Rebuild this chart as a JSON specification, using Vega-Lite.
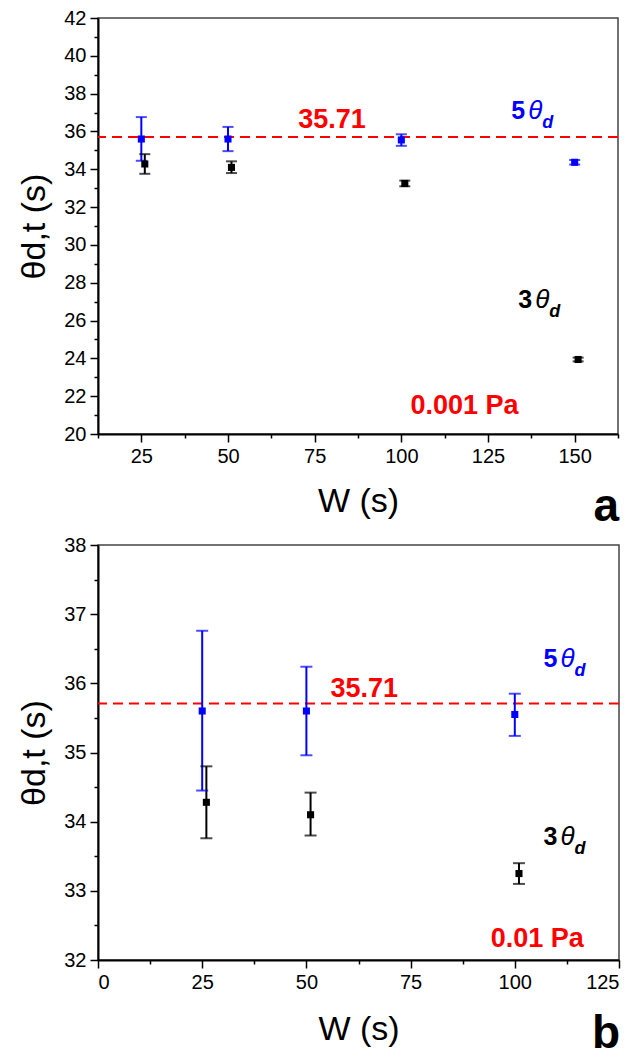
{
  "$schema": "https://vega.github.io/schema/vega-lite/v6.json",
  "padding": {"left": 17, "top": 7, "right": 15, "bottom": 0},
  "background": "white",
  "config": {
    "font": "Liberation Sans",
    "view": {"stroke": "#444", "strokeWidth": 1.5},
    "axis": {
      "grid": false,
      "domainColor": "#000",
      "domainWidth": 2,
      "tickColor": "#000",
      "tickWidth": 1.5,
      "labelFontSize": 20,
      "labelColor": "#000",
      "labelFont": "Liberation Sans",
      "labelOverlap": false,
      "titleFont": "Liberation Sans",
      "titleFontSize": 34,
      "titleFontWeight": "normal",
      "titleColor": "#000",
      "labelPadding": 4
    }
  },
  "datasets": {
    "a": [
      {"s": "5", "W": 25, "v": 35.6, "lo": 34.45, "hi": 36.76},
      {"s": "5", "W": 50, "v": 35.6, "lo": 34.96, "hi": 36.24},
      {"s": "5", "W": 100, "v": 35.55, "lo": 35.24, "hi": 35.85},
      {"s": "5", "W": 150, "v": 34.37, "lo": 34.25, "hi": 34.49},
      {"s": "3", "W": 26, "v": 34.28, "lo": 33.76, "hi": 34.8},
      {"s": "3", "W": 51, "v": 34.1, "lo": 33.8, "hi": 34.42},
      {"s": "3", "W": 101, "v": 33.25, "lo": 33.1, "hi": 33.4},
      {"s": "3", "W": 151, "v": 23.94, "lo": 23.84, "hi": 24.04}
    ],
    "b": [
      {"s": "5", "W": 25, "v": 35.6, "lo": 34.45, "hi": 36.76},
      {"s": "5", "W": 50, "v": 35.6, "lo": 34.96, "hi": 36.24},
      {"s": "5", "W": 100, "v": 35.55, "lo": 35.24, "hi": 35.85},
      {"s": "3", "W": 26, "v": 34.28, "lo": 33.76, "hi": 34.8},
      {"s": "3", "W": 51, "v": 34.1, "lo": 33.8, "hi": 34.42},
      {"s": "3", "W": 101, "v": 33.25, "lo": 33.1, "hi": 33.4}
    ],
    "ref": [{"v": 35.71}],
    "labA": [
      {"s": "5", "W": 131.7, "v": 36.66},
      {"s": "3", "W": 133.7, "v": 26.66}
    ],
    "labB": [
      {"s": "5", "W": 106.9, "v": 36.24},
      {"s": "3", "W": 106.9, "v": 33.66}
    ],
    "redA": [
      {"W": 80, "v": 36.18, "t": "35.71"},
      {"W": 118.2, "v": 21.05, "t": "0.001 Pa"}
    ],
    "redB": [
      {"W": 63.9, "v": 35.8, "t": "35.71"},
      {"W": 105.4, "v": 32.19, "t": "0.01 Pa"}
    ]
  },
  "spacing": 3,
  "vconcat": [
    {
      "width": 520,
      "height": 416,
      "title": {"text": "a", "orient": "bottom", "anchor": "end", "fontSize": 46, "fontWeight": "bold", "color": "#000", "offset": -33},
      "layer": [
        {
          "data": {"name": "ref"},
          "mark": {"type": "rule", "color": "#ff0000", "strokeDash": [10, 6], "strokeWidth": 2},
          "encoding": {"y": {"field": "v", "type": "quantitative"}}
        },
        {
          "data": {"name": "a"},
          "mark": {"type": "rule", "strokeWidth": 2},
          "encoding": {
            "x": {"field": "W", "type": "quantitative", "scale": {"domain": [12.5, 162.5], "nice": false, "zero": false},
              "axis": {"title": "W (s)", "values": [12.5, 25, 37.5, 50, 62.5, 75, 87.5, 100, 112.5, 125, 137.5, 150, 162.5],
                "tickCount": 200,
                "labelExpr": "datum.value % 25 === 0 ? format(datum.value, 'd') : ''",
                "labelOverlap": false,
                "tickSize": {"condition": {"test": "datum.value % 25 === 0", "value": 8}, "value": 4},
                "labelPadding": 4, "titlePadding": 18}},
            "y": {"field": "lo", "type": "quantitative", "scale": {"domain": [20, 42], "nice": false, "zero": false},
              "axis": {"title": "θd,t (s)", "values": [20, 21, 22, 23, 24, 25, 26, 27, 28, 29, 30, 31, 32, 33, 34, 35, 36, 37, 38, 39, 40, 41, 42],
                "tickCount": 200,
                "labelExpr": "datum.value % 2 === 0 ? format(datum.value, 'd') : ''",
                "labelOverlap": false,
                "tickSize": {"condition": {"test": "datum.value % 2 === 0", "value": 8}, "value": 4},
                "labelPadding": 4, "titlePadding": 12}},
            "y2": {"field": "hi"},
            "color": {"field": "s", "type": "nominal", "scale": {"domain": ["5", "3"], "range": ["#0000ff", "#000000"]}, "legend": null}
          }
        },
        {
          "data": {"name": "a"},
          "mark": {"type": "tick", "orient": "horizontal", "size": 11, "thickness": 2},
          "encoding": {
            "x": {"field": "W", "type": "quantitative"},
            "y": {"field": "hi", "type": "quantitative"},
            "color": {"field": "s", "type": "nominal", "legend": null}
          }
        },
        {
          "data": {"name": "a"},
          "mark": {"type": "tick", "orient": "horizontal", "size": 11, "thickness": 2},
          "encoding": {
            "x": {"field": "W", "type": "quantitative"},
            "y": {"field": "lo", "type": "quantitative"},
            "color": {"field": "s", "type": "nominal", "legend": null}
          }
        },
        {
          "data": {"name": "a"},
          "mark": {"type": "square", "size": 50, "filled": true, "opacity": 1},
          "encoding": {
            "x": {"field": "W", "type": "quantitative"},
            "y": {"field": "v", "type": "quantitative"},
            "color": {"field": "s", "type": "nominal", "legend": null}
          }
        },
        {
          "data": {"name": "redA"},
          "mark": {"type": "text", "color": "#ff0000", "fontSize": 27, "fontWeight": "bold", "align": "center", "baseline": "alphabetic"},
          "encoding": {
            "x": {"field": "W", "type": "quantitative"},
            "y": {"field": "v", "type": "quantitative"},
            "text": {"field": "t"}
          }
        },
        {
          "data": {"name": "labA"},
          "mark": {"type": "text", "fontSize": 25, "fontWeight": "bold", "align": "left", "baseline": "alphabetic"},
          "encoding": {
            "x": {"field": "W", "type": "quantitative"},
            "y": {"field": "v", "type": "quantitative"},
            "text": {"field": "s"},
            "color": {"field": "s", "type": "nominal", "legend": null}
          }
        },
        {
          "data": {"name": "labA"},
          "mark": {"type": "text", "fontSize": 26, "fontStyle": "italic", "align": "left", "baseline": "alphabetic", "dx": 17, "text": "θ"},
          "encoding": {
            "x": {"field": "W", "type": "quantitative"},
            "y": {"field": "v", "type": "quantitative"},
            "color": {"field": "s", "type": "nominal", "legend": null}
          }
        },
        {
          "data": {"name": "labA"},
          "mark": {"type": "text", "fontSize": 18, "fontStyle": "italic", "fontWeight": "bold", "align": "left", "baseline": "alphabetic", "dx": 31, "dy": 9, "text": "d"},
          "encoding": {
            "x": {"field": "W", "type": "quantitative"},
            "y": {"field": "v", "type": "quantitative"},
            "color": {"field": "s", "type": "nominal", "legend": null}
          }
        }
      ]
    },
    {
      "width": 521,
      "height": 415,
      "title": {"text": "b", "orient": "bottom", "anchor": "end", "fontSize": 46, "fontWeight": "bold", "color": "#000", "offset": -34},
      "layer": [
        {
          "data": {"name": "ref"},
          "mark": {"type": "rule", "color": "#ff0000", "strokeDash": [10, 6], "strokeWidth": 2},
          "encoding": {"y": {"field": "v", "type": "quantitative"}}
        },
        {
          "data": {"name": "b"},
          "mark": {"type": "rule", "strokeWidth": 2},
          "encoding": {
            "x": {"field": "W", "type": "quantitative", "scale": {"domain": [0, 125], "nice": false},
              "axis": {"title": "W (s)", "values": [0, 12.5, 25, 37.5, 50, 62.5, 75, 87.5, 100, 112.5, 125],
                "tickCount": 200,
                "labelExpr": "datum.value % 25 === 0 ? format(datum.value, 'd') : ''",
                "labelOverlap": false,
                "tickSize": {"condition": {"test": "datum.value % 25 === 0", "value": 8}, "value": 4},
                "labelPadding": 4, "titlePadding": 20}},
            "y": {"field": "lo", "type": "quantitative", "scale": {"domain": [32, 38], "nice": false, "zero": false},
              "axis": {"title": "θd,t (s)", "values": [32, 32.5, 33, 33.5, 34, 34.5, 35, 35.5, 36, 36.5, 37, 37.5, 38],
                "tickCount": 200,
                "labelExpr": "datum.value % 1 === 0 ? format(datum.value, 'd') : ''",
                "labelOverlap": false,
                "tickSize": {"condition": {"test": "datum.value % 1 === 0", "value": 8}, "value": 4},
                "labelPadding": 4, "titlePadding": 12}},
            "y2": {"field": "hi"},
            "color": {"field": "s", "type": "nominal", "scale": {"domain": ["5", "3"], "range": ["#0000ff", "#000000"]}, "legend": null}
          }
        },
        {
          "data": {"name": "b"},
          "mark": {"type": "tick", "orient": "horizontal", "size": 12, "thickness": 2},
          "encoding": {
            "x": {"field": "W", "type": "quantitative"},
            "y": {"field": "hi", "type": "quantitative"},
            "color": {"field": "s", "type": "nominal", "legend": null}
          }
        },
        {
          "data": {"name": "b"},
          "mark": {"type": "tick", "orient": "horizontal", "size": 12, "thickness": 2},
          "encoding": {
            "x": {"field": "W", "type": "quantitative"},
            "y": {"field": "lo", "type": "quantitative"},
            "color": {"field": "s", "type": "nominal", "legend": null}
          }
        },
        {
          "data": {"name": "b"},
          "mark": {"type": "square", "size": 50, "filled": true, "opacity": 1},
          "encoding": {
            "x": {"field": "W", "type": "quantitative"},
            "y": {"field": "v", "type": "quantitative"},
            "color": {"field": "s", "type": "nominal", "legend": null}
          }
        },
        {
          "data": {"name": "redB"},
          "mark": {"type": "text", "color": "#ff0000", "fontSize": 27, "fontWeight": "bold", "align": "center", "baseline": "alphabetic"},
          "encoding": {
            "x": {"field": "W", "type": "quantitative"},
            "y": {"field": "v", "type": "quantitative"},
            "text": {"field": "t"}
          }
        },
        {
          "data": {"name": "labB"},
          "mark": {"type": "text", "fontSize": 25, "fontWeight": "bold", "align": "left", "baseline": "alphabetic"},
          "encoding": {
            "x": {"field": "W", "type": "quantitative"},
            "y": {"field": "v", "type": "quantitative"},
            "text": {"field": "s"},
            "color": {"field": "s", "type": "nominal", "legend": null}
          }
        },
        {
          "data": {"name": "labB"},
          "mark": {"type": "text", "fontSize": 26, "fontStyle": "italic", "align": "left", "baseline": "alphabetic", "dx": 17, "text": "θ"},
          "encoding": {
            "x": {"field": "W", "type": "quantitative"},
            "y": {"field": "v", "type": "quantitative"},
            "color": {"field": "s", "type": "nominal", "legend": null}
          }
        },
        {
          "data": {"name": "labB"},
          "mark": {"type": "text", "fontSize": 18, "fontStyle": "italic", "fontWeight": "bold", "align": "left", "baseline": "alphabetic", "dx": 31, "dy": 9, "text": "d"},
          "encoding": {
            "x": {"field": "W", "type": "quantitative"},
            "y": {"field": "v", "type": "quantitative"},
            "color": {"field": "s", "type": "nominal", "legend": null}
          }
        }
      ]
    }
  ]
}
